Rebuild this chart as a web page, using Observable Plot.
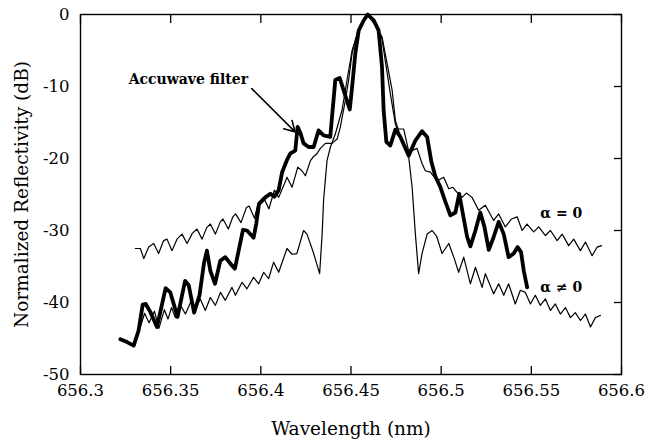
<!DOCTYPE html>
<html>
<head>
<meta charset="utf-8">
<script src="https://cdn.jsdelivr.net/npm/d3@7"></script>
<script src="https://cdn.jsdelivr.net/npm/@observablehq/plot@0.6"></script>
<style>
  html, body { margin: 0; padding: 0; background: #fff; }
  #chart { width: 645px; height: 442px; }
</style>
</head>
<body>
<div id="chart"></div>
<script>
// ---- Data ----
const xTicks = [656.3, 656.35, 656.4, 656.45, 656.5, 656.55, 656.6];
const yTicks = [-50, -40, -30, -20, -10, 0];

// Accuwave filter (measured, thick)
const accuX = [656.3221,656.3258,656.3295,656.3322,656.3345,656.3362,656.3387,656.3424,656.3472,656.3498,656.3538,656.3580,656.3600,656.3630,656.3660,656.3685,656.3701,656.3720,656.3746,656.3775,656.3803,656.3831,656.3856,656.3877,656.3901,656.3923,656.3960,656.3975,656.3990,656.4025,656.4053,656.4075,656.4099,656.4118,656.4145,656.4164,656.4191,656.4204,656.4220,656.4237,656.4265,656.4293,656.4320,656.4348,656.4385,656.4413,656.4437,656.4459,656.4493,656.4506,656.4524,656.4543,656.4571,656.4593,656.4626,656.4653,656.4672,656.4681,656.4696,656.4718,656.4746,656.4774,656.4820,656.4857,656.4894,656.4922,656.4946,656.4968,656.4996,656.5023,656.5051,656.5079,656.5100,656.5144,656.5162,656.5190,656.5217,656.5240,656.5264,656.5291,656.5319,656.5347,656.5374,656.5402,656.5424,656.5443,656.5458,656.5477];
const accuY = [-45.1,-45.5,-46.0,-43.9,-40.3,-40.2,-41.3,-43.4,-38.0,-38.6,-42.0,-37.0,-37.6,-41.4,-39.0,-34.5,-32.8,-35.6,-37.4,-34.2,-33.7,-34.6,-35.3,-32.8,-29.9,-30.0,-31.0,-29.0,-26.3,-25.4,-24.9,-25.3,-24.4,-21.9,-20.2,-19.3,-18.9,-15.6,-16.5,-17.9,-18.4,-18.4,-16.1,-16.8,-17.0,-9.1,-8.8,-10.5,-13.2,-10.1,-5.4,-2.2,-0.8,0,-0.8,-2.2,-7.3,-13.3,-17.7,-18.2,-16.0,-17.0,-19.6,-17.5,-16.2,-17.0,-20.5,-22.5,-24.0,-26.0,-27.9,-27.5,-24.9,-30.9,-32.2,-30.0,-27.5,-29.5,-32.7,-30.9,-28.8,-30.5,-33.7,-33.2,-32.3,-33.0,-35.6,-37.9];

// alpha = 0 (theory, thin, upper sidelobes)
const alpha0X = [656.3304,656.3332,656.3351,656.3378,656.3406,656.3433,656.3461,656.3480,656.3507,656.3535,656.3563,656.3591,656.3620,656.3646,656.3674,656.3700,656.3720,656.3748,656.3775,656.3790,656.3820,656.3845,656.3860,656.3890,656.3920,656.3935,656.3965,656.3985,656.4015,656.4045,656.4075,656.4099,656.4136,656.4145,656.4173,656.4205,656.4228,656.4247,656.4275,656.4290,656.4312,656.4330,656.4358,656.4395,656.4423,656.4441,656.4469,656.4487,656.4506,656.4534,656.4561,656.4593,656.4625,656.4645,656.4672,656.4690,656.4718,656.4746,656.4755,656.4792,656.4820,656.4838,656.4866,656.4894,656.4912,656.4940,656.4968,656.4986,656.5014,656.5042,656.5065,656.5088,656.5116,656.5140,656.5171,656.5208,656.5245,656.5291,656.5319,656.5356,656.5390,656.5421,656.5449,656.5476,656.5513,656.5541,656.5578,656.5606,656.5643,656.5671,656.5707,656.5735,656.5772,656.5800,656.5837,656.5865,656.5890];
const alpha0Y = [-32.5,-32.5,-33.9,-32.3,-31.8,-33.2,-31.4,-31.2,-32.8,-31.2,-30.5,-31.8,-30.4,-29.8,-31.2,-29.6,-29.1,-30.5,-28.8,-28.4,-29.8,-28.1,-27.7,-28.9,-26.8,-26.6,-28.3,-26.2,-25.4,-27.0,-24.4,-25.4,-23.2,-22.6,-24.0,-21.2,-21.7,-22.4,-20.3,-19.8,-19.3,-18.6,-17.9,-17.9,-17.3,-15.6,-11.9,-9.1,-5.4,-2.6,-1.1,0,-0.6,-1.7,-3.4,-6.4,-11.0,-15.2,-15.9,-15.9,-19.0,-18.9,-18.6,-20.7,-21.7,-21.9,-22.8,-23.0,-22.6,-24.2,-24.0,-24.7,-25.4,-24.8,-25.4,-27.2,-26.5,-28.6,-27.7,-29.5,-28.4,-28.1,-30.0,-29.1,-30.2,-29.5,-30.7,-30.0,-31.4,-30.5,-32.1,-31.2,-32.8,-31.6,-33.5,-32.3,-32.1];

// alpha != 0 (theory, thin, lower sidelobes)
const alphaNX = [656.3332,656.3355,656.3380,656.3410,656.3435,656.3465,656.3485,656.3505,656.3526,656.3554,656.3582,656.3610,656.3637,656.3664,656.3692,656.3720,656.3748,656.3776,656.3803,656.3840,656.3859,656.3896,656.3923,656.3960,656.3988,656.4016,656.4043,656.4071,656.4099,656.4145,656.4173,656.4200,656.4237,656.4256,656.4293,656.4326,656.4340,656.4348,656.4367,656.4386,656.4413,656.4450,656.4478,656.4506,656.4542,656.4593,656.4645,656.4672,656.4700,656.4728,656.4746,656.4775,656.4800,656.4820,656.4839,656.4857,656.4875,656.4894,656.4922,656.4950,656.4975,656.5005,656.5042,656.5070,656.5097,656.5125,656.5162,656.5190,656.5227,656.5245,656.5291,656.5319,656.5347,656.5374,656.5411,656.5439,656.5467,656.5495,656.5522,656.5550,656.5578,656.5606,656.5633,656.5661,656.5689,656.5717,656.5744,656.5772,656.5800,656.5828,656.5855,656.5883];
const alphaNY = [-43.4,-41.5,-42.8,-41.2,-43.6,-41.0,-42.3,-40.7,-42.1,-40.4,-41.6,-40.0,-40.9,-39.5,-41.1,-39.3,-40.4,-38.6,-39.7,-37.9,-39.0,-37.2,-38.1,-36.5,-37.4,-35.8,-36.7,-34.4,-35.8,-32.5,-33.3,-33.2,-30.0,-30.5,-33.2,-36.0,-30.5,-25.8,-20.3,-18.4,-16.6,-13.3,-9.1,-5.0,-2.2,0,-1.9,-3.1,-6.8,-10.5,-14.7,-17.0,-18.5,-19.8,-24.0,-30.5,-36.0,-33.2,-30.5,-30.0,-30.8,-33.2,-31.8,-33.7,-35.8,-33.7,-37.4,-35.1,-37.9,-36.0,-38.8,-37.4,-39.0,-37.4,-40.2,-38.3,-38.6,-40.2,-39.0,-40.4,-39.5,-41.1,-40.2,-41.6,-40.7,-42.1,-41.4,-42.5,-41.6,-43.4,-42.1,-41.8];

// Annotations
const labelTexts = ["Accuwave filter", "α = 0", "α ≠ 0"];
const labelX = [656.3598, 656.5666, 656.5666];
const labelY = [-9.0, -27.6, -37.9];
const arrowFrom = [656.3950, -10.3];
const arrowTo = [656.4190, -16.3];

// ---- Build tables ----
const zip = (xs, ys) => xs.map((x, i) => ({x, y: ys[i]}));
const accu = zip(accuX, accuY);
const alpha0 = zip(alpha0X, alpha0Y);
const alphaN = zip(alphaNX, alphaNY);
const labels = labelTexts.map((t, i) => ({t, x: labelX[i], y: labelY[i]}));
const arrows = [{x1: arrowFrom[0], y1: arrowFrom[1], x2: arrowTo[0], y2: arrowTo[1]}];

const font = "'DejaVu Serif', 'Liberation Serif', serif";
const fmtX = d => String(+d.toFixed(2));
const fmtY = d => String(d);

const chart = Plot.plot({
  width: 645,
  height: 442,
  marginLeft: 80,
  marginRight: 24,
  marginTop: 14,
  marginBottom: 68,
  style: {fontFamily: font, background: "white", color: "black"},
  x: {domain: [656.3, 656.6]},
  y: {domain: [-50, 0]},
  marks: [
    Plot.line(alpha0, {x: "x", y: "y", stroke: "black", strokeWidth: 1.2}),
    Plot.line(alphaN, {x: "x", y: "y", stroke: "black", strokeWidth: 1.2}),
    Plot.line(accu, {x: "x", y: "y", stroke: "black", strokeWidth: 3.8, strokeLinejoin: "round"}),
    Plot.frame({stroke: "black", strokeWidth: 1.4}),
    Plot.axisX({ticks: xTicks, anchor: "bottom", tickSize: -8, strokeWidth: 1.3, tickFormat: () => "", label: null}),
    Plot.axisX({ticks: xTicks, anchor: "top", tickSize: -8, strokeWidth: 1.3, tickFormat: () => "", label: null}),
    Plot.axisY({ticks: yTicks, anchor: "right", tickSize: -8, strokeWidth: 1.3, tickFormat: () => "", label: null}),
    Plot.axisX({ticks: xTicks, anchor: "bottom", tickSize: 0, tickPadding: 10, tickFormat: fmtX, fontSize: 16.5, label: null}),
    Plot.axisY({ticks: yTicks, anchor: "left", tickSize: 0, tickPadding: 11, tickFormat: fmtY, fontSize: 16.5, label: null}),
    Plot.text(["Wavelength (nm)"], {frameAnchor: "bottom", dy: 60, fontSize: 18.5, lineAnchor: "bottom"}),
    Plot.text(["Normalized Reflectivity (dB)"], {frameAnchor: "left", dx: -58, rotate: -90, textAnchor: "middle", fontSize: 18.5}),
    Plot.text(labels, {x: "x", y: "y", text: "t", fontSize: 14, fontWeight: "bold"}),
    Plot.arrow(arrows, {x1: "x1", y1: "y1", x2: "x2", y2: "y2", bend: false, headLength: 11, strokeWidth: 1.6, stroke: "black"})
  ]
});
document.getElementById("chart").appendChild(chart);
</script>
</body>
</html>
